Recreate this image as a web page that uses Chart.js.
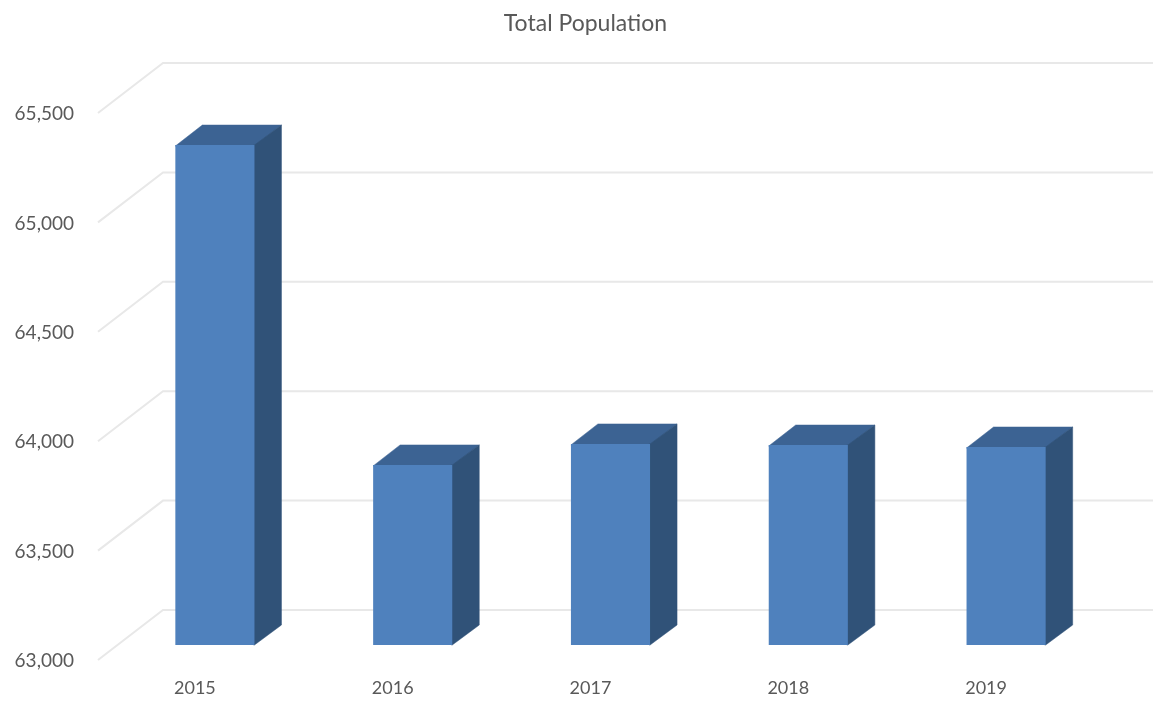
<!DOCTYPE html>
<html lang="en">
  <head>
    <meta charset="UTF-8">
    <title>Total Population</title>
    <script src="https://cdn.jsdelivr.net/npm/chart.js@4"></script>
    <style>
      html, body { margin: 0; background: #FFFFFF; }
      .chart-container { width: 1156px; height: 708px; }
    </style>
  </head>
  <body>
    <div class="chart-container">
      <canvas id="populationChart"></canvas>
    </div>
    <script>
      const categories = ['2015', '2016', '2017', '2018', '2019'];
      const population = [65285, 63823, 63919, 63914, 63905];
      const yTicks = [63000, 63500, 64000, 64500, 65000, 65500];

      const FONT = 'Lato';
      const TEXT = '#595959';
      const GRID = '#E8E8E8';
      const FRONT = '#4F81BD';
      const SIDE = '#305278';
      const TOP = '#3C6393';

      // 3d look: wall sits behind the bars, bars have a smaller depth
      const wall = { dy: -35, left: 65, drop: 50 };
      const depth = { dx: 27, dy: -20 };

      const wallGrid = {
        id: 'wallGrid',
        afterLayout(chart) {
          // labels get clipped to the axis box, so let it reach the page edge
          chart.scales.y.left = 0;
        },
        beforeDatasetsDraw(chart) {
          const { ctx, scales: { y } } = chart;
          ctx.save();
          ctx.strokeStyle = GRID;
          ctx.lineWidth = 2;
          yTicks.forEach((v) => {
            const py = y.getPixelForValue(v) + wall.dy;
            ctx.beginPath();
            ctx.moveTo(163 - wall.left, py + wall.drop);
            ctx.lineTo(163, py);
            ctx.lineTo(1153, py);
            ctx.stroke();
          });
          ctx.restore();
        }
      };

      // side and top faces go under the front face, so no seam shows
      const barDepth = {
        id: 'barDepth',
        beforeDatasetsDraw(chart) {
          const { ctx } = chart;
          ctx.save();
          ctx.lineWidth = 0.5;
          chart.getDatasetMeta(0).data.forEach((bar) => {
            const left = bar.x - bar.width / 2;
            const right = bar.x + bar.width / 2;
            ctx.fillStyle = TOP;
            ctx.strokeStyle = TOP;
            ctx.beginPath();
            ctx.moveTo(left, bar.y + 1);
            ctx.lineTo(left + depth.dx, bar.y + depth.dy);
            ctx.lineTo(right + depth.dx, bar.y + depth.dy);
            ctx.lineTo(right, bar.y + 1);
            ctx.closePath();
            ctx.fill();
            ctx.stroke();
            ctx.fillStyle = SIDE;
            ctx.strokeStyle = SIDE;
            ctx.beginPath();
            ctx.moveTo(right - 1, bar.y);
            ctx.lineTo(right, bar.y);
            ctx.lineTo(right + depth.dx, bar.y + depth.dy);
            ctx.lineTo(right + depth.dx, bar.base + depth.dy);
            ctx.lineTo(right, bar.base);
            ctx.lineTo(right - 1, bar.base);
            ctx.closePath();
            ctx.fill();
            ctx.stroke();
          });
          ctx.restore();
        }
      };

      const ctx1 = document.getElementById('populationChart').getContext('2d');
      const populationChart = new Chart(ctx1, {
        type: 'bar',
        data: {
          labels: categories,
          datasets: [{
            label: 'Total Population',
            data: population,
            base: yTicks[0],
            backgroundColor: FRONT,
            borderWidth: 0,
            categoryPercentage: 1,
            barPercentage: 0.4
          }]
        },
        plugins: [wallGrid, barDepth],
        options: {
          responsive: true,
          maintainAspectRatio: false,
          animation: false,
          layout: { padding: { left: 66, right: 51, top: 0, bottom: 0 } },
          plugins: {
            legend: { display: false },
            tooltip: { enabled: false },
            title: {
              display: true,
              text: 'Total Population',
              color: TEXT,
              font: { family: FONT, size: 23, weight: 'normal' },
              padding: { top: 10, bottom: 60.4 }
            }
          },
          scales: {
            y: {
              min: 63000,
              max: 65500,
              border: { display: false },
              grid: { display: false },
              afterFit(scale) { scale.width = 50; },
              afterBuildTicks(scale) { scale.ticks = yTicks.map((value) => ({ value })); },
              ticks: {
                color: TEXT,
                font: { family: FONT, size: 19 },
                padding: 34,
                labelOffset: 16,
                callback: (v) => v.toLocaleString('en-US')
              }
            },
            x: {
              border: { display: false },
              grid: { display: false },
              afterFit(scale) { scale.height = 63; },
              ticks: {
                color: TEXT,
                font: { family: FONT, size: 18 },
                padding: 24,
                labelOffset: -20,
                maxRotation: 0
              }
            }
          }
        }
      });
    </script>
  </body>
</html>
